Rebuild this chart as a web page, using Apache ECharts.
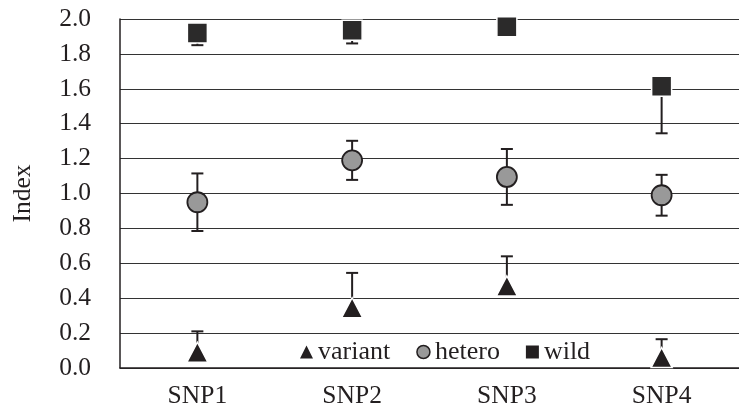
<!DOCTYPE html>
<html><head><meta charset="utf-8">
<script src="https://cdn.jsdelivr.net/npm/echarts@6/dist/echarts.min.js"></script>
<style>html,body{margin:0;padding:0;background:#fff}#c{width:739px;height:412px}</style>
</head><body><div id="c"></div>
<script>
var categories = ['SNP1', 'SNP2', 'SNP3', 'SNP4'];
var yTicks = [0, 0.2, 0.4, 0.6, 0.8, 1.0, 1.2, 1.4, 1.6, 1.8, 2.0];
var variantMean = [0.09, 0.345, 0.47, 0.06];
var variantErrUp = [0.12, 0.20, 0.17, 0.105];
var heteroMean = [0.95, 1.19, 1.095, 0.99];
var heteroErr = [0.165, 0.112, 0.16, 0.117];
var wildMean = [1.92, 1.935, 1.955, 1.615];
var wildErrDown = [0.07, 0.075, 0.03, 0.27];

var FONT = '"Liberation Serif", "Times New Roman", serif';
var INK = '#231f20';
var FS = 25.5;

function errSeries(name, lows, highs, showLowCap, showHighCap) {
  var data = categories.map(function (c, i) { return [i, lows[i], highs[i]]; });
  return {
    type: 'custom', name: name, z: 1, silent: true,
    renderItem: function (params, api) {
      var lo = api.coord([api.value(0), api.value(1)]);
      var hi = api.coord([api.value(0), api.value(2)]);
      var w = 6;
      var ch = [{ type: 'line', shape: { x1: lo[0], y1: lo[1], x2: hi[0], y2: hi[1] }, style: { stroke: INK, lineWidth: 2 } }];
      if (showLowCap) ch.push({ type: 'line', shape: { x1: lo[0] - w, y1: lo[1], x2: lo[0] + w, y2: lo[1] }, style: { stroke: INK, lineWidth: 2 } });
      if (showHighCap) ch.push({ type: 'line', shape: { x1: hi[0] - w, y1: hi[1], x2: hi[0] + w, y2: hi[1] }, style: { stroke: INK, lineWidth: 2 } });
      return { type: 'group', children: ch };
    },
    encode: { x: 0, y: [1, 2] },
    data: data
  };
}

var chart = echarts.init(document.getElementById('c'), null, { renderer: 'canvas' });
chart.setOption({
  animation: false,
  backgroundColor: '#fff',
  grid: { left: 120, top: 19, width: 628, bottom: 44 },
  legend: {
    data: [
      { name: 'variant', icon: 'triangle', itemStyle: { color: INK, borderWidth: 0 } },
      { name: 'hetero', icon: 'circle', itemStyle: { color: '#999999', borderColor: INK, borderWidth: 1.5 } },
      { name: 'wild', icon: 'rect', itemStyle: { color: INK, borderWidth: 0 } }
    ],
    left: 300, top: 339, itemWidth: 13, itemHeight: 13, itemGap: 26, padding: 0,
    textStyle: { fontFamily: FONT, fontSize: 26, color: INK },
    backgroundColor: 'rgba(0,0,0,0)'
  },
  xAxis: {
    type: 'category', data: categories, boundaryGap: true,
    axisLine: { lineStyle: { color: INK, width: 1.5 } },
    axisTick: { inside: true, length: 8, lineStyle: { color: INK } },
    axisLabel: { fontFamily: FONT, fontSize: FS, color: INK, margin: 15 },
    splitLine: { show: false }
  },
  yAxis: {
    type: 'value', min: 0, max: 2, interval: 0.2,
    name: 'Index', nameLocation: 'middle', nameGap: 84, nameRotate: 90,
    nameTextStyle: { fontFamily: FONT, fontSize: FS, color: INK },
    axisLine: { show: true, lineStyle: { color: INK, width: 1.5 } },
    axisTick: { show: false },
    axisLabel: { fontFamily: FONT, fontSize: FS, color: INK, margin: 29, padding: [3, 0, 0, 0],
      formatter: function (v) { return v.toFixed(1); } },
    splitLine: { show: true, lineStyle: { color: '#333', width: 1.2 } }
  },
  series: [
    errSeries('e1', variantMean, variantMean.map(function (v, i) { return v + variantErrUp[i]; }), false, true),
    errSeries('e2', heteroMean.map(function (v, i) { return v - heteroErr[i]; }), heteroMean.map(function (v, i) { return v + heteroErr[i]; }), true, true),
    errSeries('e3', wildMean.map(function (v, i) { return v - wildErrDown[i]; }), wildMean, true, false),
    { type: 'scatter', name: 'variant', z: 3, symbol: 'triangle', symbolSize: [21, 20],
      itemStyle: { color: INK, borderColor: '#fff', borderWidth: 1.5, opacity: 1 },
      data: variantMean.map(function (v, i) { return [i, v]; }) },
    { type: 'scatter', name: 'hetero', z: 3, symbol: 'circle', symbolSize: 20,
      itemStyle: { color: '#999999', borderColor: INK, borderWidth: 1.8, opacity: 1 },
      data: heteroMean.map(function (v, i) { return [i, v]; }) },
    { type: 'scatter', name: 'wild', z: 3, symbol: 'rect', symbolSize: 20,
      itemStyle: { color: '#2b2a2a', borderColor: '#fff', borderWidth: 1.5, opacity: 1 },
      data: wildMean.map(function (v, i) { return [i, v]; }) }
  ]
});
</script>
</body></html>
